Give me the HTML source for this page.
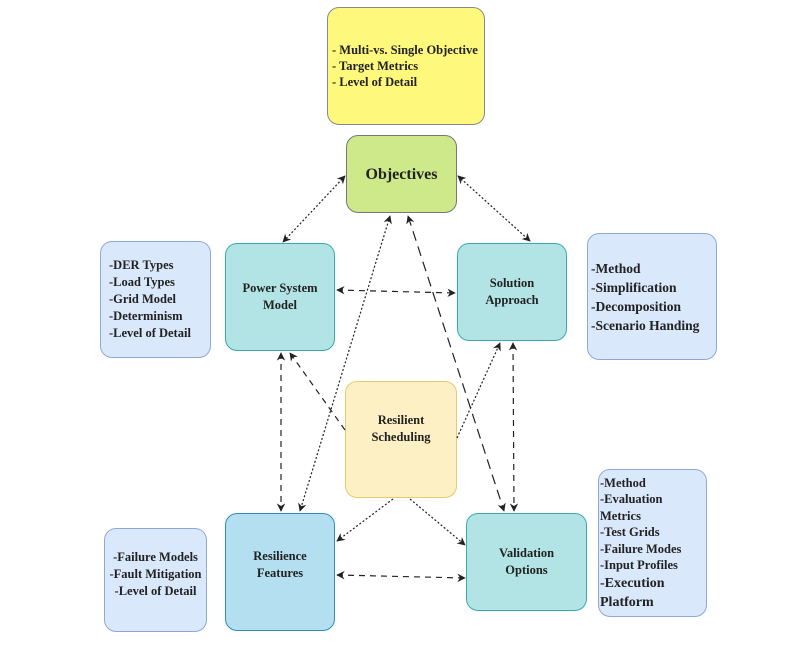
<!DOCTYPE html>
<html><head><style>
body{margin:0;background:#fff;width:803px;height:659px;overflow:hidden;position:relative;font-family:"Liberation Serif",serif;font-weight:bold;color:#222}
.b{position:absolute;box-sizing:border-box;border-radius:12px;display:flex;align-items:center;justify-content:center;text-align:center;font-size:13px;line-height:17px}
.l{justify-content:flex-start;text-align:left;padding-left:4px}
</style></head><body>
<div class="b l" style="left:327px;top:7px;width:158px;height:118px;background:#fef97c;border:1px solid #888;font-size:12.5px;line-height:16px">- Multi-vs. Single Objective<br>- Target Metrics<br>- Level of Detail</div>
<div class="b" style="left:346px;top:135px;width:111px;height:78px;background:#cde98a;border:1px solid #777;font-size:16px">Objectives</div>
<div class="b" style="left:225px;top:243px;width:110px;height:108px;background:#b2e4e5;border:1px solid #3aa9b0;font-size:12.5px">Power System<br>Model</div>
<div class="b" style="left:457px;top:243px;width:110px;height:98px;background:#b2e4e5;border:1px solid #3aa9b0;font-size:12.5px">Solution<br>Approach</div>
<div class="b" style="left:345px;top:381px;width:112px;height:117px;background:#fdf0c4;border:1px solid #e8cb6c;font-size:12.5px;padding-bottom:22px">Resilient<br>Scheduling</div>
<div class="b" style="left:225px;top:513px;width:110px;height:118px;background:#b3dff0;border:1px solid #2f8cbc;font-size:12.5px;padding-bottom:14px">Resilience<br>Features</div>
<div class="b" style="left:466px;top:513px;width:121px;height:98px;background:#b2e4e5;border:1px solid #3aa9b0;font-size:12.5px">Validation<br>Options</div>
<div class="b l" style="left:100px;top:241px;width:111px;height:117px;background:#dae8fc;border:1px solid #8ea8d8;padding-left:8px;font-size:12.5px">-DER Types<br>-Load Types<br>-Grid Model<br>-Determinism<br>-Level of Detail</div>
<div class="b l" style="left:587px;top:233px;width:130px;height:127px;background:#dae8fc;border:1px solid #8ea8d8;padding-left:3px;font-size:13.5px;line-height:19px">-Method<br>-Simplification<br>-Decomposition<br>-Scenario Handing</div>
<div class="b" style="left:104px;top:528px;width:103px;height:104px;background:#dae8fc;border:1px solid #8ea8d8;font-size:12.5px;padding-bottom:12px">-Failure Models<br>-Fault Mitigation<br>-Level of Detail</div>
<div class="b l" style="left:598px;top:469px;width:109px;height:148px;background:#dae8fc;border:1px solid #8ea8d8;padding-left:1px;font-size:12.5px;line-height:16.5px"><div>-Method<br>-Evaluation<br>Metrics<br>-Test Grids<br>-Failure Modes<br>-Input Profiles<br><span style="font-size:14px;line-height:19px">-Execution<br>Platform</span></div></div>
<svg width="803" height="659" style="position:absolute;left:0;top:0" fill="none" stroke="#222" stroke-width="1.2">
<defs><marker id="a" viewBox="0 0 10 10" refX="9" refY="5" markerWidth="7" markerHeight="7" orient="auto-start-reverse"><path d="M0,0L10,5L0,10L3,5z" fill="#222" stroke="none"/></marker></defs>
<g stroke-dasharray="2,2">
<path d="M345,176L283,242" marker-start="url(#a)" marker-end="url(#a)"/>
<path d="M458,176L530,241" marker-start="url(#a)" marker-end="url(#a)"/>
<path d="M390,216L300,511" marker-start="url(#a)" marker-end="url(#a)"/>
<path d="M457,438L500,343" marker-end="url(#a)"/>
<path d="M393,499L337,541" marker-end="url(#a)"/>
<path d="M410,499L465,545" marker-end="url(#a)"/>
</g>
<g stroke-dasharray="6,5">
<path d="M337,290L455,293" marker-start="url(#a)" marker-end="url(#a)"/>
<path d="M281,353L281,511" marker-start="url(#a)" marker-end="url(#a)"/>
<path d="M513,343L514,511" marker-start="url(#a)" marker-end="url(#a)"/>
<path d="M345,430L290,353" marker-end="url(#a)"/>
<path d="M337,575L465,578" marker-start="url(#a)" marker-end="url(#a)"/>
</g>
<path d="M408,216L504,511" stroke-dasharray="10,6" marker-start="url(#a)" marker-end="url(#a)"/>
</svg>
</body></html>
